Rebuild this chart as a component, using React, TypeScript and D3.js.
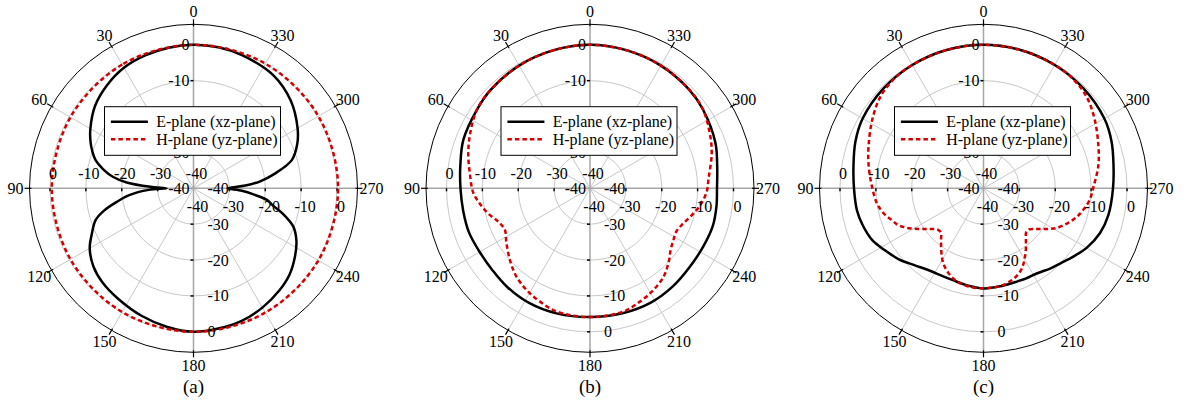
import * as d3 from "d3";

// radiation pattern samples: [angle in degrees (counter-clockwise from top), gain in dB]
const panelLabels = ["(a)", "(b)", "(c)"];
const legendLabels = ["E-plane (xz-plane)", "H-plane (yz-plane)"];
const angleTicks = [0, 30, 60, 90, 120, 150, 180, 210, 240, 270, 300, 330];
const dbTicks = [-40, -30, -20, -10, 0];
// the top axis label at -20 sits fully under the legend in the original
const topAxisTicks = [-40, -30, -10, 0];

const ePlaneA: [number, number][] = [
  [0, 0], [10, -0.2], [20, -0.6], [30, -1.2], [40, -2.5], [50, -4.2], [60, -6.8], [66, -8.6],
  [70, -10], [74, -11.6], [78, -14.2], [82, -17.4], [85, -21.3], [88, -28], [90, -32.5],
  [92, -27.5], [96, -22], [100, -18.3], [104, -14.3], [108, -11.3], [114, -9.0], [120, -6.6],
  [128, -4.6], [136, -3.5], [146, -2.7], [158, -1.6], [169, -0.7], [180, 0], [190, -0.3],
  [200, -0.7], [210, -1.6], [220, -2.8], [228, -4.0], [236, -5.9], [243, -7.8], [249, -10.2],
  [254, -14], [258, -17.5], [261, -19.3], [264, -23], [267, -26.5], [270, -30.5], [273, -25.5],
  [276, -21.3], [280, -17.2], [286, -11.5], [293, -8.6], [300, -6.5], [312, -3.5], [325, -1.4],
  [340, -0.5], [350, -0.1],
];
const hPlaneA: [number, number][] = [
  [0, 0], [30, -0.2], [60, -0.4], [90, -0.5], [120, -0.4], [150, -0.2], [180, 0], [210, 0],
  [240, 0.2], [270, 0.3], [300, 0.2], [330, 0.1],
];

const ePlaneB: [number, number][] = [
  [0, 0], [15, -0.2], [30, -0.5], [45, -1.0], [55, -1.6], [69, -2.2], [80, -3.3], [90, -3.9],
  [100, -4.1], [110, -4.1], [120, -4.5], [130, -4.5], [140, -4.1], [152, -3.8], [165, -3.9],
  [180, -4.1], [195, -4.0], [208, -3.9], [220, -4.2], [232, -4.6], [243, -4.5], [253, -4.2],
  [262, -4.4], [270, -4.6], [280, -4.0], [290, -2.8], [305, -1.6], [315, -1.0], [330, -0.5],
  [345, -0.2],
];
const hPlaneB: [number, number][] = [
  [0, 0], [15, -0.2], [30, -0.5], [45, -1.0], [55, -1.6], [65, -3.2], [74, -4.7], [84, -6.4],
  [92, -7.4], [98, -9.0], [104, -10.8], [110, -12.8], [116, -13.6], [123, -12.2], [132, -10.0],
  [140, -8.0], [148, -6.6], [156, -5.5], [165, -4.4], [180, -4.1], [195, -4.4], [204, -5.5],
  [212, -6.6], [220, -8.0], [227, -10.0], [233, -11.8], [238, -12.6], [243, -13.1], [248, -12.5],
  [254, -11.0], [261, -9.0], [268, -7.5], [275, -6.8], [286, -4.7], [295, -3.2], [305, -1.6],
  [315, -1.0], [330, -0.5], [345, -0.2],
];

const ePlaneC: [number, number][] = [
  [0, 0], [15, -0.1], [30, -0.3], [45, -0.6], [60, -1.1], [70, -2.0], [80, -3.2], [90, -3.9],
  [100, -4.2], [107, -4.8], [115, -5.8], [122, -7.5], [130, -9.2], [138, -11.2], [147, -12.6],
  [155, -13.0], [162, -13.0], [170, -12.6], [180, -12.1], [190, -12.3], [198, -12.4],
  [205, -12.2], [212, -12.0], [220, -10.9], [226, -10.0], [233, -8.5], [240, -6.8], [249, -5.2],
  [258, -4.4], [270, -3.9], [280, -3.2], [290, -2.0], [300, -1.1], [315, -0.6], [330, -0.3],
  [345, -0.1],
];
const hPlaneC: [number, number][] = [
  [0, 0], [15, -0.1], [30, -0.3], [39, -0.6], [48, -1.5], [58, -3.5], [70, -5.9], [79, -7.4],
  [89, -8.9], [98, -10.0], [104, -11.3], [109, -12.9], [113, -14.0], [116, -15.3], [119, -16.9],
  [122, -18.6], [125, -20.2], [128, -21.6], [132, -22.8], [136, -22.9], [140, -21.6],
  [144, -19.9], [148, -18.0], [152, -16.2], [157, -14.6], [163, -13.2], [170, -12.4],
  [180, -12.1], [190, -12.4], [197, -13.2], [203, -14.4], [207, -15.8], [211, -17.6],
  [215, -19.4], [220, -21.6], [224, -22.9], [228, -22.9], [232, -21.6], [235, -20.2],
  [238, -18.6], [241, -17.0], [245, -15.5], [249, -14.1], [253, -12.8], [258, -11.5],
  [264, -10.2], [271, -9.3], [281, -7.4], [290, -5.9], [302, -3.5], [312, -1.5], [321, -0.6],
  [330, -0.3], [345, -0.1],
];

const ePlanes = [ePlaneA, ePlaneB, ePlaneC];
const hPlanes = [hPlaneA, hPlaneB, hPlaneC];

const WIDTH = 1194;
const HEIGHT = 401;
const CENTERS = [193.5, 590, 983.5];
const CY = 188.3;
const R_OUT = 164;
const RED = "#d40000";
const GRID = "#c8c8c8";
const FONT = "'Liberation Serif', 'Times New Roman', serif";

const r = d3.scaleLinear().domain([-40, 0]).range([0, 143.5]);
const rad = (deg: number) => (deg * Math.PI) / 180;

const line = d3
  .lineRadial<[number, number]>()
  .angle((d) => -rad(d[0]))
  .radius((d) => r(Math.max(-40, d[1])))
  .curve(d3.curveCatmullRomClosed.alpha(0.5));

// screen offset for a polar point, angle counter-clockwise from top
const px = (deg: number, rr: number) => -rr * Math.sin(rad(deg));
const py = (deg: number, rr: number) => -rr * Math.cos(rad(deg));

function Polar({ cx, idx }: { cx: number; idx: number }) {
  return (
    <g transform={`translate(${cx},${CY})`} fontFamily={FONT} fill="#000">
      {/* grid circles */}
      {dbTicks.slice(1).map((v) => (
        <circle key={v} r={r(v)} fill="none" stroke={GRID} strokeWidth={1} />
      ))}
      {/* spokes */}
      {angleTicks
        .filter((a) => a % 90 !== 0)
        .map((a) => (
          <line key={a} x1={0} y1={0} x2={px(a, R_OUT)} y2={py(a, R_OUT)} stroke={GRID} strokeWidth={1} />
        ))}
      {/* main axes */}
      <line x1={-R_OUT} y1={0} x2={R_OUT} y2={0} stroke="#a6a6a6" strokeWidth={1.5} />
      <line x1={0} y1={-R_OUT} x2={0} y2={R_OUT} stroke="#a6a6a6" strokeWidth={1.5} />
      {/* outer frame */}
      <circle r={R_OUT} fill="none" stroke="#000" strokeWidth={1} />
      {angleTicks.map((a) => (
        <line key={a} x1={px(a, R_OUT - 2)} y1={py(a, R_OUT - 2)} x2={px(a, R_OUT + 5)} y2={py(a, R_OUT + 5)} stroke="#000" strokeWidth={1.2} />
      ))}
      {/* axis ticks */}
      {dbTicks.slice(1).map((v) => (
        <g key={v} stroke="#000" strokeWidth={1.5}>
          <line x1={-3} x2={0} y1={-r(v)} y2={-r(v)} />
          <line x1={-3} x2={0} y1={r(v)} y2={r(v)} />
          <line x1={-r(v)} x2={-r(v)} y1={0} y2={3} />
          <line x1={r(v)} x2={r(v)} y1={0} y2={3} />
        </g>
      ))}
      {/* curves */}
      <path d={line(ePlanes[idx]) ?? ""} fill="none" stroke="#000" strokeWidth={2.5} />
      <path d={line(hPlanes[idx]) ?? ""} fill="none" stroke={RED} strokeWidth={2.5} strokeDasharray="4.5,3" />
      {/* radial tick labels */}
      <g fontSize={16} dominantBaseline="central">
        {topAxisTicks.map((v) => (
          <text key={"t" + v} x={-4} y={-r(v)} textAnchor="end">{v}</text>
        ))}
        {dbTicks.map((v) => (
          <text key={"l" + v} x={-r(v) + 3} y={-15} textAnchor="middle">{v}</text>
        ))}
        {dbTicks.map((v) => (
          <text key={"r" + v} x={r(v) + 4} y={18} textAnchor="middle">{v}</text>
        ))}
        {dbTicks.map((v) => (
          <text key={"b" + v} x={14} y={r(v)} textAnchor="start">{v}</text>
        ))}
      </g>
      {/* angle labels */}
      <g fontSize={16} dominantBaseline="central" textAnchor="middle">
        {angleTicks.map((a) => (
          <text key={a} x={px(a, 178)} y={py(a, 177)}>{a}</text>
        ))}
      </g>
      {/* legend */}
      <g>
        <rect x={-89} y={-81.6} width={176} height={48.6} fill="#fff" stroke="#000" strokeWidth={1} />
        <line x1={-82.6} x2={-45.6} y1={-66.6} y2={-66.6} stroke="#000" strokeWidth={2.5} />
        <line x1={-82.6} x2={-45.6} y1={-49} y2={-49} stroke={RED} strokeWidth={2.5} strokeDasharray="4.5,3" />
        <text x={-37.3} y={-66.6} fontSize={16} dominantBaseline="central">{legendLabels[0]}</text>
        <text x={-37.3} y={-49} fontSize={16} dominantBaseline="central">{legendLabels[1]}</text>
      </g>
      <text x={0} y={387 - CY} fontSize={19} textAnchor="middle" dominantBaseline="central">
        {panelLabels[idx]}
      </text>
    </g>
  );
}

export default function App() {
  return (
    <svg
      width={WIDTH}
      height={HEIGHT}
      style={{ position: "absolute", left: 0, top: 0, background: "#fff" }}
    >
      {CENTERS.map((cx, i) => (
        <Polar key={i} cx={cx} idx={i} />
      ))}
    </svg>
  );
}
